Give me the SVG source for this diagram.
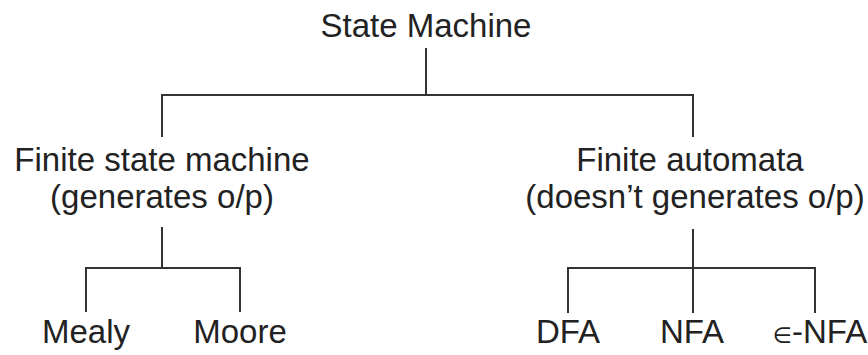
<svg xmlns="http://www.w3.org/2000/svg" width="868" height="355" viewBox="0 0 868 355">
  <style>
    .lbl { font-family: "Liberation Sans", Arial, sans-serif; font-size: 33px; fill: #222; text-anchor: middle; }
    .eps { font-family: "DejaVu Sans", sans-serif; font-size: 22px; }
    .wire { fill: none; stroke: #333; stroke-width: 2; }
  </style>
  <rect width="868" height="355" fill="#fff"/>

  <!-- tree connectors -->
  <g id="connectors">
    <path class="wire" d="M426 48 V95 M162 137 V95 H693 V137"/>
    <path class="wire" d="M162 227 V268 M86 312 V268 H240 V312"/>
    <path class="wire" d="M693 229 V313 M568 313 V268 H815 V313"/>
  </g>

  <g id="state-machine">
    <text class="lbl" x="426" y="37">State Machine</text>
  </g>
  <g id="finite-state-machine">
    <text class="lbl" x="162" y="171">Finite state machine</text>
    <text class="lbl" x="162" y="208">(generates o/p)</text>
  </g>
  <g id="finite-automata">
    <text class="lbl" x="690" y="171">Finite automata</text>
    <text class="lbl" x="695" y="208">(doesn’t generates o/p)</text>
  </g>
  <g id="mealy">
    <text class="lbl" x="86" y="343">Mealy</text>
  </g>
  <g id="moore">
    <text class="lbl" x="240" y="343">Moore</text>
  </g>
  <g id="dfa">
    <text class="lbl" x="568" y="343">DFA</text>
  </g>
  <g id="nfa">
    <text class="lbl" x="692" y="343">NFA</text>
  </g>
  <g id="epsilon-nfa">
    <text class="lbl" x="820" y="343"><tspan class="eps">∈</tspan>-NFA</text>
  </g>
</svg>
